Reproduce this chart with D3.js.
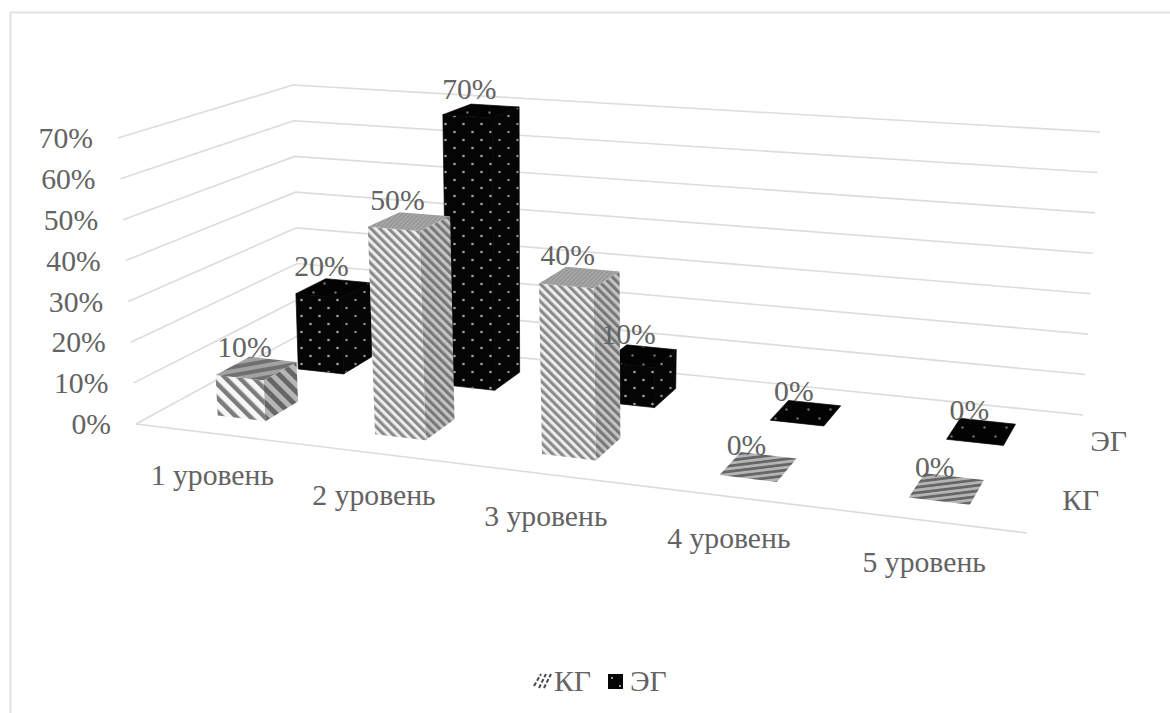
<!DOCTYPE html>
<html lang="ru">
<head>
<meta charset="utf-8">
<title>Уровни КГ и ЭГ</title>
<script src="https://cdn.jsdelivr.net/npm/d3@7/dist/d3.min.js"></script>
<style>
  html, body { margin: 0; padding: 0; background: #fff; }
  svg { display: block; }
  text { font-family: "Liberation Serif", "Times New Roman", serif; fill: #636363; }
</style>
</head>
<body>
<svg id="chart" width="1170" height="713"></svg>
<script>
// Chart values
const categories = ["1 уровень", "2 уровень", "3 уровень", "4 уровень", "5 уровень"];
const seriesNames = ["КГ", "ЭГ"];
const kgValues = [10, 50, 40, 0, 0];
const egValues = [20, 70, 10, 0, 0];
const axisTicks = [0, 10, 20, 30, 40, 50, 60, 70];
const valuesBySeries = { "КГ": kgValues, "ЭГ": egValues };

const svg = d3.select("#chart");
const W = 1170, H = 713;
const FONT = 29.7;

// Scales work in box space: s along categories, t front-to-back, h in percent.
const sScale = d3.scaleBand().domain(categories).range([0, 1]).paddingInner(0.69).paddingOuter(0.345).align(0.52);
const tScale = d3.scaleBand().domain(seriesNames).range([0, 1]).paddingInner(0.6).paddingOuter(0.3);
const hScale = d3.scaleLinear().domain([0, 70]).range([0, 1]);

// Perspective box: the floor is a homography (front-left, front-right, back-right, back-left);
// the ceiling shares its denominator and is pinned to the three visible wall corners.
const floorQuad = [[136, 424], [1027, 533], [1083, 415], [299, 335]];
const ceilCorners = { frontLeft: [118, 138], backRight: [1100, 132], backLeft: [293, 85] };

function buildCamera(q, c) {
  const [[x0, y0], [x1, y1], [x2, y2], [x3, y3]] = q;
  const dx1 = x1 - x2, dx2 = x3 - x2, dx3 = x0 - x1 + x2 - x3;
  const dy1 = y1 - y2, dy2 = y3 - y2, dy3 = y0 - y1 + y2 - y3;
  const den = dx1 * dy2 - dx2 * dy1;
  const g = (dx3 * dy2 - dx2 * dy3) / den;
  const h = (dx1 * dy3 - dx3 * dy1) / den;
  const floorRow = (v0, v1, v3) => [v1 - v0 + g * v1, v3 - v0 + h * v3, v0];
  const ceilRow = (fl, br, bl) => {
    const b = bl * (1 + h) - fl;
    return [br * (1 + g + h) - b - fl, b, fl];
  };
  const fx = floorRow(x0, x1, x3), fy = floorRow(y0, y1, y3);
  const cx = ceilRow(c.frontLeft[0], c.backRight[0], c.backLeft[0]);
  const cy = ceilRow(c.frontLeft[1], c.backRight[1], c.backLeft[1]);
  return (s, t, k) => {
    const w = g * s + h * t + 1;
    const row = (f, u) => (f[0] + (u[0] - f[0]) * k) * s + (f[1] + (u[1] - f[1]) * k) * t + f[2] + (u[2] - f[2]) * k;
    return [row(fx, cx) / w, row(fy, cy) / w];
  };
}
const camera = buildCamera(floorQuad, ceilCorners);
const project = (s, t, v) => camera(s, t, hScale(v));

// Fill textures
const defs = svg.append("defs");
function stripePattern(id, period, back, stripe, angle, duty) {
  const p = defs.append("pattern").attr("id", id).attr("patternUnits", "userSpaceOnUse")
    .attr("width", period).attr("height", period).attr("patternTransform", `rotate(${angle})`);
  p.append("rect").attr("width", period).attr("height", period).attr("fill", back);
  p.append("rect").attr("width", period * duty).attr("height", period).attr("fill", stripe);
}
function dotPattern(id, w, h, back, dot, r) {
  const p = defs.append("pattern").attr("id", id).attr("patternUnits", "userSpaceOnUse")
    .attr("width", w).attr("height", h);
  p.append("rect").attr("width", w).attr("height", h).attr("fill", back);
  [[w / 4, h / 4], [w * 3 / 4, h * 3 / 4]].forEach(([cx, cy]) =>
    p.append("circle").attr("cx", cx).attr("cy", cy).attr("r", r).attr("fill", dot));
}
stripePattern("kg-front", 6.2, "#ededed", "#8a8a8a", -45, 0.5);
stripePattern("kg-side", 6.2, "#c4c4c4", "#777777", -45, 0.5);
stripePattern("kg-top", 3, "#ababab", "#939393", 45, 0.5);
stripePattern("kg-front-wide", 10, "#f6f6f6", "#7c7c7c", -45, 0.45);
stripePattern("kg-side-wide", 10, "#b6b6b6", "#666666", -45, 0.5);
stripePattern("kg-top-wide", 8, "#a2a2a2", "#707070", 80, 0.5);
stripePattern("kg-top-flat", 5.5, "#b4b4b4", "#666666", 83, 0.5);
dotPattern("eg-front", 18, 16, "#050505", "#a0a0a0", 1.35);
dotPattern("eg-side", 18, 16, "#060606", "#8a8a8a", 1.3);
dotPattern("eg-top", 22, 18, "#030303", "#707070", 1.2);

// Panel frame, open on the right and at the bottom
svg.append("path").attr("d", `M10.5,${H} V12.5 H${W}`)
  .attr("fill", "none").attr("stroke", "#e2e2e2").attr("stroke-width", 2);

// Grid on the two walls
const line = d3.line();
const grid = svg.append("g").attr("fill", "none").attr("stroke", "#dcdcdc").attr("stroke-width", 1.6);
grid.selectAll("path").data(axisTicks).join("path")
  .attr("d", v => line([project(0, 0, v), project(0, 1, v), project(1, 1, v)]));
grid.append("path").attr("d", line([project(0, 0, 0), project(1, 0, 0)]));

// Value axis labels
svg.append("g").selectAll("text").data(axisTicks).join("text")
  .attr("x", v => project(0, 0, v)[0] - 25)
  .attr("y", v => project(0, 0, v)[1])
  .attr("dy", "0.34em").attr("text-anchor", "end").attr("font-size", FONT)
  .text(v => v + "%");

// Bars, the back row first so that the front row overlaps it
function barFaces(name, cat, value) {
  const s0 = sScale(cat), s1 = s0 + sScale.bandwidth();
  const t0 = tScale(name), t1 = t0 + tScale.bandwidth();
  const fl = v => project(s0, t0, v), fr = v => project(s1, t0, v);
  const br = v => project(s1, t1, v), bl = v => project(s0, t1, v);
  return {
    front: [fl(0), fr(0), fr(value), fl(value)],
    side: [fr(0), br(0), br(value), fr(value)],
    top: [fl(value), fr(value), br(value), bl(value)]
  };
}
function faceFill(name, face, value) {
  if (name === "ЭГ") return `url(#eg-${face})`;
  if (value === 0) return "url(#kg-top-flat)";
  if (value <= 10) return `url(#kg-${face}-wide)`;
  return `url(#kg-${face})`;
}
const polygon = pts => line(pts) + "Z";
const barLayer = svg.append("g");
["ЭГ", "КГ"].forEach(name => {
  const values = valuesBySeries[name];
  categories.forEach((cat, i) => {
    const v = values[i], faces = barFaces(name, cat, v);
    const faceNames = v === 0 ? ["top"] : ["front", "side", "top"];
    faceNames.forEach(face => barLayer.append("path")
      .attr("d", polygon(faces[face]))
      .attr("fill", faceFill(name, face, v))
      .attr("stroke", name === "ЭГ" ? "#050505" : "none")
      .attr("stroke-width", 0.7));
  });
});

// Value labels over each bar
const labelLayer = svg.append("g");
seriesNames.forEach(name => {
  categories.forEach((cat, i) => {
    const v = valuesBySeries[name][i];
    const sMid = sScale(cat) + sScale.bandwidth() / 2;
    const tMid = tScale(name) + tScale.bandwidth() / 2;
    const [x, y] = project(sMid, tMid, v);
    labelLayer.append("text").attr("x", x - 12).attr("y", y - 22)
      .attr("dy", "0.34em").attr("text-anchor", "middle").attr("font-size", FONT)
      .text(v + "%");
  });
});

// Category labels under the front edge
svg.append("g").selectAll("text").data(categories).join("text")
  .attr("x", c => project(sScale(c) + sScale.bandwidth() / 2, 0, 0)[0] - 3)
  .attr("y", c => project(sScale(c) + sScale.bandwidth() / 2, 0, 0)[1] + 41.5)
  .attr("dy", "0.34em").attr("text-anchor", "middle").attr("font-size", FONT)
  .text(c => c);

// Depth axis labels past the right edge
svg.append("g").selectAll("text").data(seriesNames).join("text")
  .attr("x", n => project(1, tScale(n) + tScale.bandwidth() / 2, 0)[0] + 38)
  .attr("y", n => project(1, tScale(n) + tScale.bandwidth() / 2, 0)[1])
  .attr("dy", "0.34em").attr("text-anchor", "middle").attr("font-size", FONT)
  .text(n => n);

// Legend
const legend = svg.append("g");
const legendY = 681;
const hatch = legend.append("g").attr("stroke", "#4a4a4a").attr("stroke-width", 2).attr("stroke-dasharray", "4 2");
d3.range(3).forEach(i => hatch.append("line")
  .attr("x1", 534 + i * 5).attr("y1", legendY + 5 + (i === 0 ? 0 : 2))
  .attr("x2", 541 + i * 5).attr("y2", legendY - 7));
legend.append("text").attr("x", 554).attr("y", legendY).attr("dy", "0.34em").attr("font-size", FONT).text(seriesNames[0]);
legend.append("rect").attr("x", 608).attr("y", legendY - 7).attr("width", 15).attr("height", 15).attr("fill", "#050505");
legend.append("circle").attr("cx", 612).attr("cy", legendY - 3).attr("r", 1).attr("fill", "#ccc");
legend.append("circle").attr("cx", 620).attr("cy", legendY + 5).attr("r", 1).attr("fill", "#ccc");
legend.append("text").attr("x", 630).attr("y", legendY).attr("dy", "0.34em").attr("font-size", FONT).text(seriesNames[1]);
</script>
</body>
</html>
